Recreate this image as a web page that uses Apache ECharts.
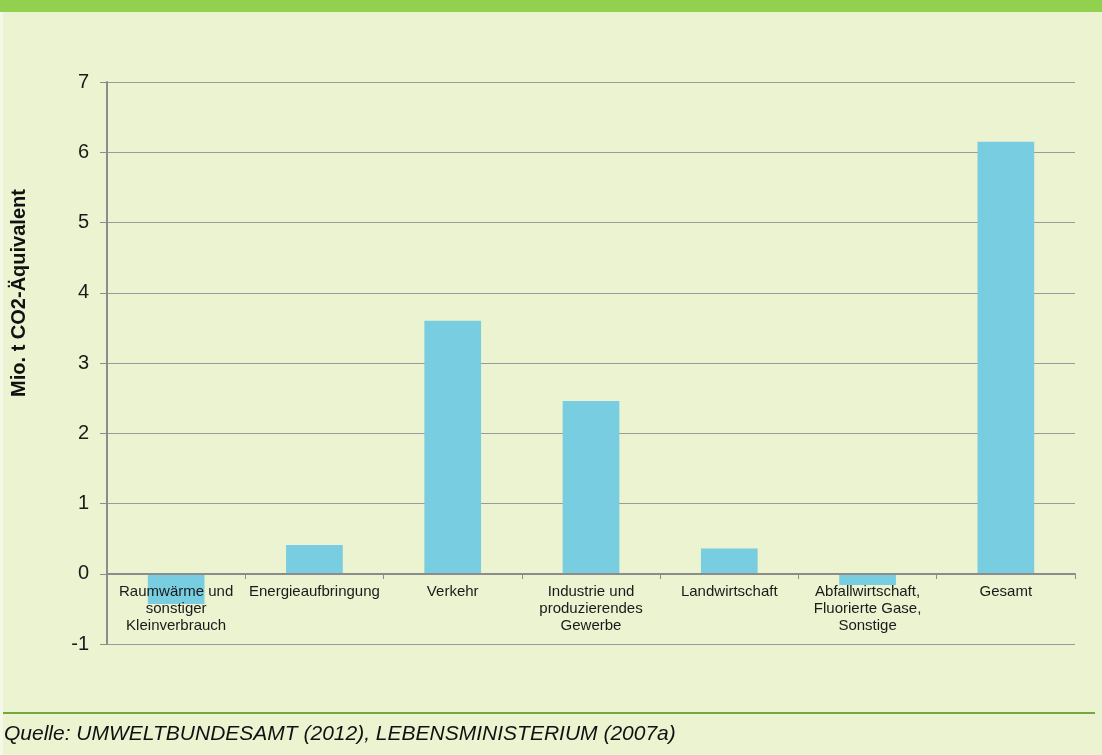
<!DOCTYPE html>
<html>
<head>
<meta charset="utf-8">
<script src="https://cdn.jsdelivr.net/npm/echarts@6/dist/echarts.min.js"></script>
<style>
  html, body { margin: 0; padding: 0; background: #ffffff; }
  #chart { width: 1102px; height: 755px; }
</style>
</head>
<body>
<div id="chart"></div>
<script>
// Sektoren
const categories = [
  'Raumwärme und\nsonstiger\nKleinverbrauch',
  'Energieaufbringung',
  'Verkehr',
  'Industrie und\nproduzierendes\nGewerbe',
  'Landwirtschaft',
  'Abfallwirtschaft,\nFluorierte Gase,\nSonstige',
  'Gesamt'
];
// Mio. t CO2-Äquivalent
const values = [-0.43, 0.41, 3.6, 2.46, 0.36, -0.16, 6.15];
const yTicks = [-1, 0, 1, 2, 3, 4, 5, 6, 7];
const yName = 'Mio. t CO2-Äquivalent';
const source = 'Quelle: UMWELTBUNDESAMT (2012), LEBENSMINISTERIUM (2007a)';

const chart = echarts.init(document.getElementById('chart'));

const font = '"Liberation Sans", Arial, sans-serif';

chart.setOption({
  backgroundColor: '#ebf3d0',
  animation: false,
  textStyle: { fontFamily: font },
  graphic: [
    { type: 'rect', left: 0, top: 0, shape: { width: 1102, height: 12 }, style: { fill: '#92d050' } },
    { type: 'rect', left: 0, top: 12, shape: { width: 3, height: 743 }, style: { fill: '#f4f8e6' } },
    { type: 'rect', left: 3, top: 712, shape: { width: 1092, height: 2 }, style: { fill: '#74a83c' } },
    {
      type: 'text', left: 4, top: 724,
      style: { text: source, fill: '#111', font: 'italic 21px ' + font }
    },
    {
      type: 'text', x: 19, y: 293, rotation: Math.PI / 2,
      style: {
        text: yName, fill: '#111', font: 'bold 20px ' + font,
        align: 'center', verticalAlign: 'middle'
      }
    }
  ],
  grid: { left: 107, right: 27, top: 82, bottom: 111 },
  xAxis: {
    type: 'category',
    data: categories,
    position: 'bottom',
    offset: -70,
    z: 5,
    axisLine: { onZero: false, lineStyle: { color: '#8c8c8c', width: 2 } },
    axisTick: { show: true, alignWithLabel: false, length: 5, lineStyle: { color: '#8c8c8c' } },
    axisLabel: { interval: 0, color: '#1a1a1a', fontSize: 15, lineHeight: 17, margin: 9 }
  },
  yAxis: {
    type: 'value',
    min: yTicks[0],
    max: yTicks[yTicks.length - 1],
    interval: 1,
    axisLine: { show: true, lineStyle: { color: '#8c8c8c', width: 2 } },
    axisTick: { show: true, length: 7, lineStyle: { color: '#8c8c8c' } },
    axisLabel: { color: '#1a1a1a', fontSize: 20, margin: 18 },
    splitLine: { lineStyle: { color: '#9a9a9a', width: 1 } }
  },
  series: [{
    type: 'bar',
    data: values,
    barWidth: '41%',
    itemStyle: { color: '#78cde0' }
  }]
});
</script>
</body>
</html>
